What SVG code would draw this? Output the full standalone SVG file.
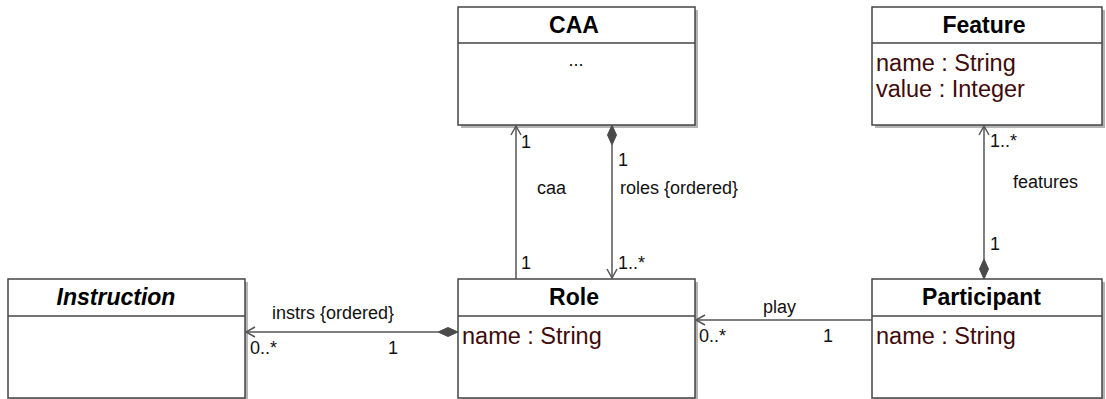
<svg xmlns="http://www.w3.org/2000/svg" width="1106" height="399" viewBox="0 0 1106 399">
  <style>
    .shadow { fill: #b4b4b4; }
    .box { fill: #ffffff; stroke: #444444; stroke-width: 1.5; }
    .sep { stroke: #444444; stroke-width: 1.5; }
    .title { font-family: "Liberation Sans", Arial, sans-serif; font-size: 23px; font-weight: bold; fill: #000; text-anchor: middle; }
    .attr { font-family: "Liberation Sans", Arial, sans-serif; font-size: 23.5px; fill: #3f0a0a; }
    .lbl { font-family: "Liberation Sans", Arial, sans-serif; font-size: 18px; fill: #111; }
    .edge { stroke: #555; stroke-width: 1.5; fill: none; }
    .open { stroke: #555; stroke-width: 1.5; fill: none; }
    .diamond { fill: #4a4a4a; stroke: #4a4a4a; stroke-width: 1; }
  </style>

  <rect width="1106" height="399" fill="#ffffff"/>

  <!-- classes -->
  <g id="caa">
    <rect class="shadow" x="461" y="10" width="237" height="118"/>
    <rect class="box" x="458" y="7" width="237" height="118"/>
    <line class="sep" x1="458" y1="43" x2="695" y2="43"/>
    <text class="title" x="574" y="33">CAA</text>
    <text class="lbl" x="576" y="66" text-anchor="middle">...</text>
  </g>

  <g id="feature">
    <rect class="shadow" x="875" y="10" width="230" height="118"/>
    <rect class="box" x="872" y="7" width="230" height="118"/>
    <line class="sep" x1="872" y1="43" x2="1102" y2="43"/>
    <text class="title" x="984" y="33">Feature</text>
    <text class="attr" x="876" y="71">name : String</text>
    <text class="attr" x="876" y="97">value : Integer</text>
  </g>

  <g id="instruction">
    <rect class="shadow" x="11" y="282" width="237" height="119"/>
    <rect class="box" x="8" y="279" width="237" height="119"/>
    <line class="sep" x1="8" y1="316" x2="245" y2="316"/>
    <text class="title" x="116" y="305" font-style="italic">Instruction</text>
  </g>

  <g id="role">
    <rect class="shadow" x="461" y="282" width="237" height="119"/>
    <rect class="box" x="458" y="279" width="237" height="119"/>
    <line class="sep" x1="458" y1="316" x2="695" y2="316"/>
    <text class="title" x="574" y="305">Role</text>
    <text class="attr" x="462" y="344">name : String</text>
  </g>

  <g id="participant">
    <rect class="shadow" x="875" y="282" width="230" height="119"/>
    <rect class="box" x="872" y="279" width="230" height="119"/>
    <line class="sep" x1="872" y1="316" x2="1102" y2="316"/>
    <text class="title" x="981.5" y="305">Participant</text>
    <text class="attr" x="876" y="344">name : String</text>
  </g>

  <!-- associations -->
  <g id="connectors">
    <!-- Role -> CAA : caa -->
    <line class="edge" x1="516" y1="279" x2="516" y2="126"/>
    <path class="open" d="M511,135 L516,126 L521,135"/>
    <text class="lbl" x="521" y="148">1</text>
    <text class="lbl" x="537" y="194">caa</text>
    <text class="lbl" x="521" y="269">1</text>

    <!-- CAA <>-> Role : roles {ordered} -->
    <line class="edge" x1="612" y1="145" x2="612" y2="278"/>
    <path class="diamond" d="M612,125 L616.5,135 L612,145 L607.5,135 Z"/>
    <path class="open" d="M607,269 L612,278 L617,269"/>
    <text class="lbl" x="618" y="166">1</text>
    <text class="lbl" x="620" y="194">roles {ordered}</text>
    <text class="lbl" x="618" y="269">1..*</text>

    <!-- Participant <>-> Feature : features -->
    <line class="edge" x1="984" y1="126" x2="984" y2="259"/>
    <path class="open" d="M979,135 L984,126 L989,135"/>
    <path class="diamond" d="M984,279 L988.5,269 L984,259 L979.5,269 Z"/>
    <text class="lbl" x="990" y="147">1..*</text>
    <text class="lbl" x="1013" y="188">features</text>
    <text class="lbl" x="990" y="250">1</text>

    <!-- Role <>-> Instruction : instrs {ordered} -->
    <line class="edge" x1="438" y1="332" x2="246" y2="332"/>
    <path class="diamond" d="M458,332 L448,336.5 L438,332 L448,327.5 Z"/>
    <path class="open" d="M255,327 L246,332 L255,337"/>
    <text class="lbl" x="272" y="319">instrs {ordered}</text>
    <text class="lbl" x="250" y="354">0..*</text>
    <text class="lbl" x="388" y="354">1</text>

    <!-- Participant -> Role : play -->
    <line class="edge" x1="872" y1="320" x2="696" y2="320"/>
    <path class="open" d="M705,315 L696,320 L705,325"/>
    <text class="lbl" x="763" y="313">play</text>
    <text class="lbl" x="699" y="342">0..*</text>
    <text class="lbl" x="823" y="342">1</text>
  </g>
</svg>
